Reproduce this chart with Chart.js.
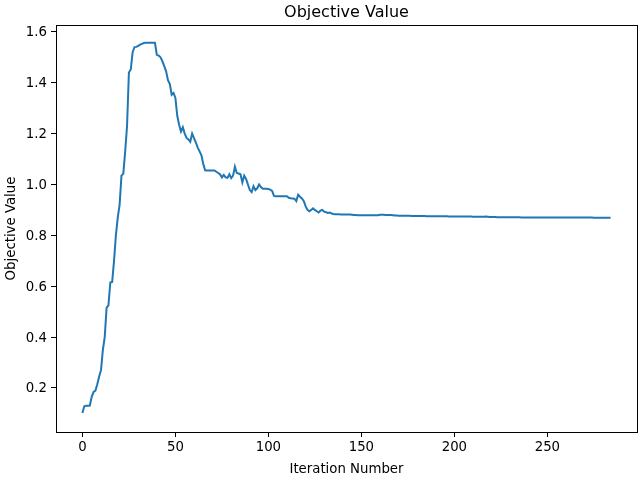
<!DOCTYPE html>
<html>
<head>
<meta charset="utf-8">
<script src="https://cdn.jsdelivr.net/npm/chart.js@4/dist/chart.umd.min.js"></script>
<style>
html,body{margin:0;padding:0;background:#fff;}
#wrap{width:640px;height:480px;position:relative;}
</style>
</head>
<body>
<div id="wrap"><canvas id="c" width="640" height="480"></canvas></div>
<script>
const chartTitle = "Objective Value";
const xLabel = "Iteration Number";
const yLabel = "Objective Value";
const xTicks = [0, 50, 100, 150, 200, 250];
const yTicks = [0.2, 0.4, 0.6, 0.8, 1.0, 1.2, 1.4, 1.6];
const objectiveValues = [
0.102,0.128,0.130,0.130,0.131,0.165,0.185,0.190,0.215,0.245,
0.270,0.350,0.400,0.515,0.525,0.615,0.617,0.700,0.800,0.870,
0.920,1.035,1.043,1.130,1.230,1.440,1.452,1.520,1.540,1.541,
1.545,1.550,1.553,1.556,1.557,1.557,1.557,1.557,1.557,1.557,
1.510,1.507,1.500,1.485,1.465,1.445,1.410,1.395,1.353,1.360,
1.340,1.270,1.235,1.208,1.225,1.200,1.183,1.177,1.168,1.200,
1.182,1.165,1.145,1.130,1.115,1.080,1.056,1.055,1.055,1.055,
1.055,1.055,1.050,1.045,1.040,1.028,1.038,1.028,1.026,1.040,
1.025,1.035,1.070,1.045,1.043,1.040,1.008,1.035,1.022,1.000,
0.978,0.970,0.993,0.978,0.985,1.000,0.990,0.983,0.983,0.983,
0.982,0.980,0.975,0.955,0.954,0.954,0.954,0.954,0.954,0.954,
0.954,0.948,0.946,0.945,0.944,0.935,0.960,0.952,0.945,0.935,
0.915,0.900,0.895,0.900,0.906,0.900,0.895,0.890,0.897,0.900,
0.893,0.891,0.888,0.890,0.886,0.884,0.883,0.883,0.883,0.882,
0.882,0.882,0.882,0.882,0.882,0.881,0.880,0.880,0.879,0.879,
0.879,0.879,0.879,0.879,0.879,0.879,0.879,0.879,0.879,0.879,
0.881,0.881,0.881,0.880,0.880,0.880,0.880,0.879,0.878,0.878,
0.877,0.877,0.877,0.877,0.877,0.877,0.877,0.876,0.876,0.876,
0.876,0.876,0.876,0.876,0.876,0.875,0.875,0.875,0.875,0.875,
0.875,0.875,0.875,0.875,0.875,0.875,0.875,0.874,0.874,0.874,
0.874,0.874,0.874,0.874,0.874,0.874,0.874,0.874,0.874,0.874,
0.873,0.873,0.873,0.873,0.873,0.873,0.873,0.874,0.873,0.872,
0.872,0.872,0.872,0.871,0.871,0.871,0.871,0.871,0.871,0.871,
0.871,0.871,0.871,0.871,0.871,0.871,0.870,0.870,0.870,0.870,
0.870,0.870,0.870,0.870,0.870,0.870,0.870,0.870,0.870,0.870,
0.870,0.870,0.870,0.870,0.870,0.870,0.870,0.870,0.870,0.870,
0.870,0.870,0.870,0.870,0.870,0.870,0.870,0.870,0.870,0.870,
0.870,0.870,0.870,0.870,0.870,0.869,0.869,0.869,0.869,0.869,
0.869,0.869,0.869,0.869,0.869
];
const iterations = objectiveValues.map((v, i) => i);

const FONT = "'DejaVu Sans', sans-serif";

const framePlugin = {
  id: 'frame',
  afterDraw(chart) {
    const {ctx, chartArea: a} = chart;
    ctx.save();
    ctx.strokeStyle = '#000';
    ctx.lineWidth = 1;
    ctx.strokeRect(Math.round(a.left) + 0.5, Math.round(a.top) + 0.5, Math.round(a.right - a.left), Math.round(a.bottom - a.top));
    ctx.fillStyle = '#000';
    ctx.font = '16px ' + FONT;
    ctx.textAlign = 'center';
    ctx.textBaseline = 'alphabetic';
    ctx.fillText(chartTitle, (a.left + a.right) / 2, 17);
    ctx.restore();
  }
};

new Chart(document.getElementById('c'), {
  type: 'line',
  data: {
    datasets: [{
      data: iterations.map((x, i) => ({x: x, y: objectiveValues[i]})),
      borderColor: '#1f77b4',
      borderWidth: 2,
      pointRadius: 0,
      tension: 0,
      fill: false
    }]
  },
  options: {
    responsive: false,
    animation: false,
    devicePixelRatio: 1,
    layout: {padding: {top: 25, right: 3, left: 0, bottom: 0}},
    plugins: {legend: {display: false}, title: {display: false}, tooltip: {enabled: false}},
    scales: {
      x: {
        type: 'linear',
        min: -14.2,
        max: 298.2,
        afterBuildTicks(s) { s.ticks = xTicks.map(v => ({value: v})); },
        afterFit(s) { s.height = 48; },
        grid: {display: true, drawOnChartArea: false, tickLength: 5, tickColor: '#000', color: '#000'},
        border: {display: false},
        ticks: {color: '#000', font: {family: FONT, size: 13.3}, padding: 3, maxRotation: 0, autoSkip: false},
        title: {display: true, text: xLabel, color: '#000', font: {family: FONT, size: 13.3}, padding: {top: 2, bottom: 2}}
      },
      y: {
        type: 'linear',
        min: 0.027,
        max: 1.627,
        afterBuildTicks(s) { s.ticks = yTicks.map(v => ({value: v})); },
        afterFit(s) { s.width = 56; },
        grid: {display: true, drawOnChartArea: false, tickLength: 5, tickColor: '#000', color: '#000'},
        border: {display: false},
        ticks: {color: '#000', font: {family: FONT, size: 13.3}, padding: 4, autoSkip: false, labelOffset: 1,
          callback: v => v.toFixed(1)},
        title: {display: true, text: yLabel, color: '#000', font: {family: FONT, size: 13.3}, padding: {top: 4, bottom: 2}}
      }
    }
  },
  plugins: [framePlugin]
});
</script>
</body>
</html>
